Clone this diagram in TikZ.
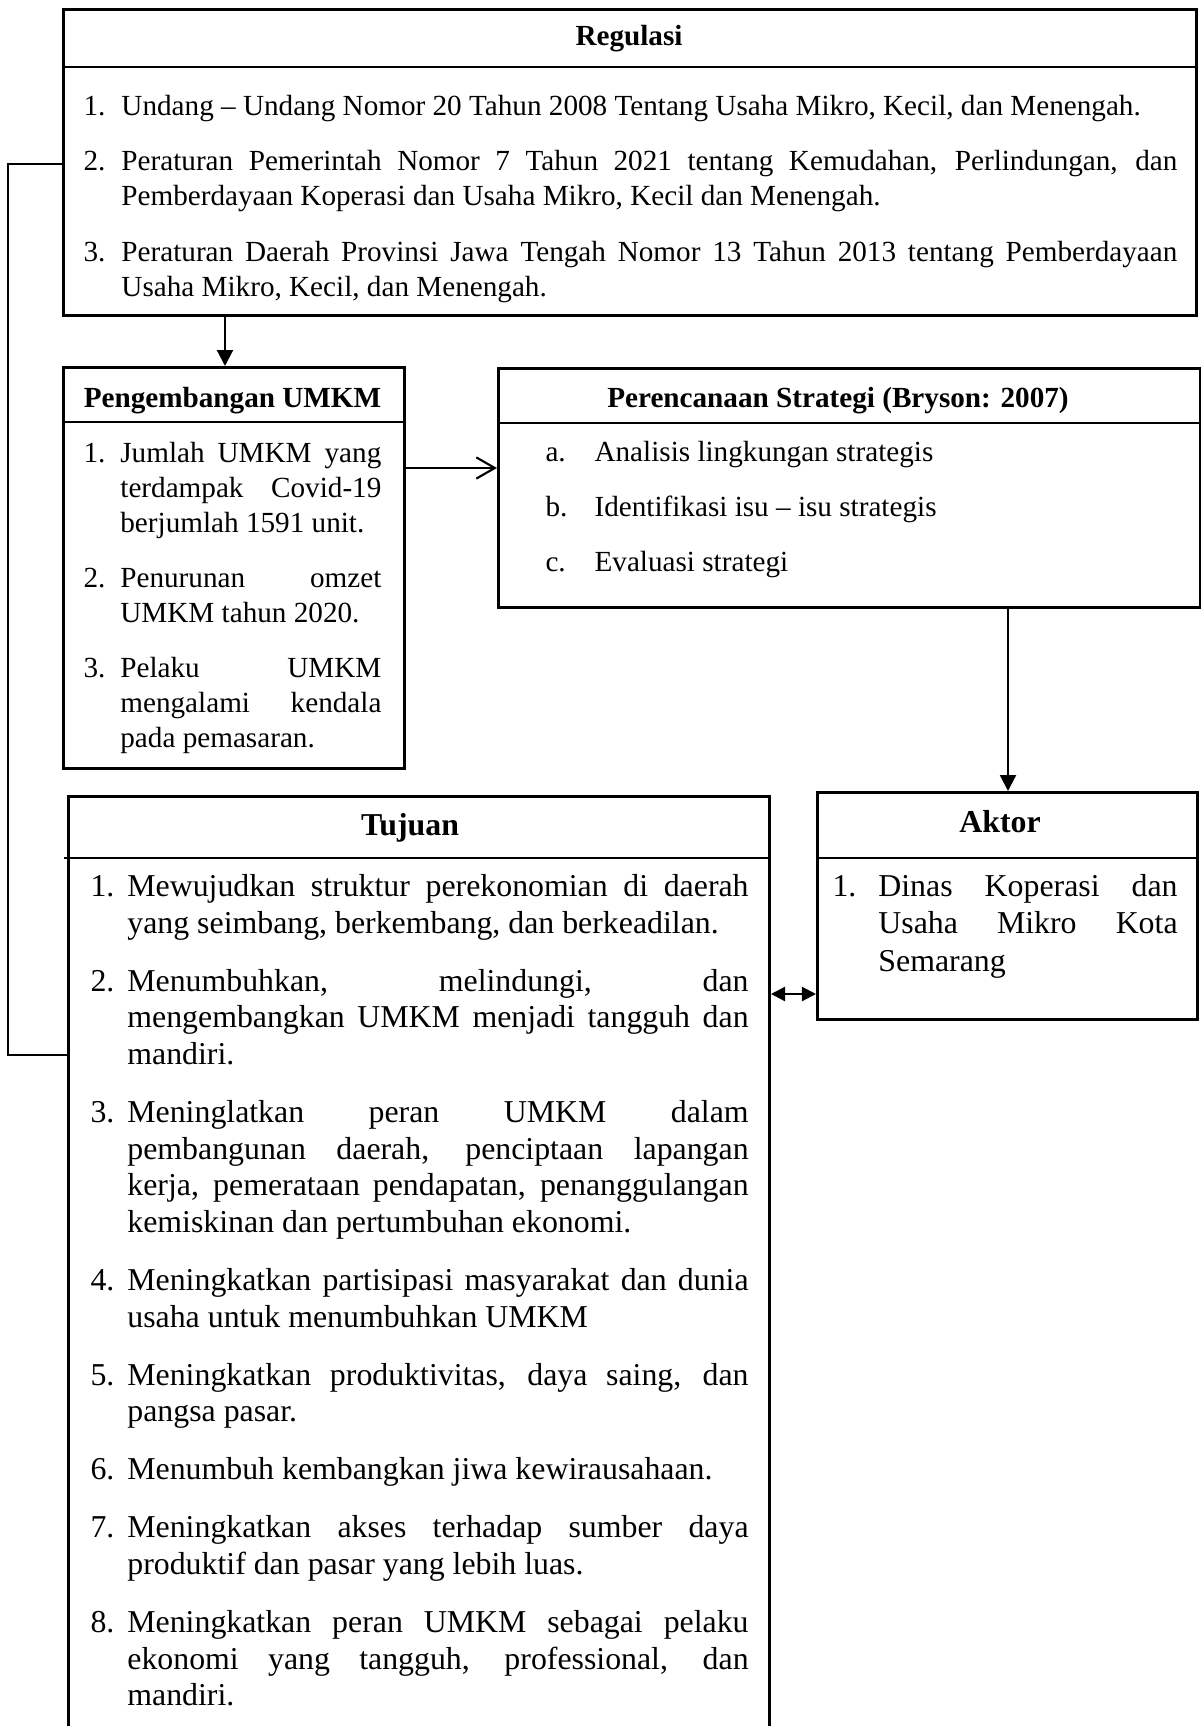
\documentclass[tikz,border=0pt]{standalone}
\usepackage{fontspec}
\setmainfont{Liberation Serif}
\usetikzlibrary{arrows.meta}
\newlength{\itemhang}
\newlength{\itemgap}
\newcommand{\numitem}[2]{\noindent\hangindent=\itemhang\hangafter=1\makebox[\itemhang][l]{#1}#2\par\vspace{\itemgap}}
\hyphenpenalty=10000
\exhyphenpenalty=10000
\hbadness=10000

\begin{document}
\begin{tikzpicture}[x=0.377pt,y=-0.377pt,
boxframe/.style={draw,line width=1.1pt,inner sep=0pt,anchor=north west},
sepline/.style={line width=0.45pt},
boxtitle/.style={anchor=base,inner sep=0pt,font=\bfseries\fontsize{11}{13}\selectfont},
bigtitle/.style={anchor=base,inner sep=0pt,font=\bfseries\fontsize{12}{14}\selectfont},
textlist/.style={anchor=base west,inner sep=0pt,align=justify,font=\fontsize{11}{13.2}\selectfont},
biglist/.style={anchor=base west,inner sep=0pt,align=justify,font=\fontsize{12}{13.8}\selectfont},
hangwidth/.code={\setlength{\itemhang}{#1}},
itemspace/.code={\setlength{\itemgap}{#1}},
flow/.style={line width=0.8pt,-{Triangle[length=6pt,width=6pt]}},
link/.style={line width=0.45pt}]
\path[use as bounding box,fill=white] (0,0) rectangle (1201,1726);
\clip (0,0) rectangle (1201,1726);

\node(regulasi)[boxframe,minimum width=427.1pt,minimum height=115.4pt] at (62,8){};
\node(regtitle)[boxtitle] at (629,45){Regulasi};
\draw[sepline] (62,67) -- (1195,67);
\node(reglist)[textlist,text width=412.4pt,hangwidth=14.3pt,itemspace=7.7pt] at (83,115.5){%
\numitem{1.}{Undang – Undang Nomor 20 Tahun 2008 Tentang Usaha Mikro, Kecil, dan Menengah.}
\numitem{2.}{Peraturan Pemerintah Nomor 7 Tahun 2021 tentang Kemudahan, Perlindungan, dan\linebreak Pemberdayaan Koperasi dan Usaha Mikro, Kecil dan Menengah.}
\numitem{3.}{Peraturan Daerah Provinsi Jawa Tengah Nomor 13 Tahun 2013 tentang Pemberdayaan\linebreak Usaha Mikro, Kecil, dan Menengah.}};

\node(pengembangan)[boxframe,minimum width=128.6pt,minimum height=151.2pt] at (62,366){};
\node(pengtitle)[boxtitle] at (232.5,407){Pengembangan UMKM};
\draw[sepline] (62,422) -- (403,422);
\node(penglist)[textlist,text width=112.3pt,hangwidth=13.9pt,itemspace=7.7pt] at (83,462){%
\numitem{1.}{Jumlah UMKM yang\linebreak terdampak Covid-19\linebreak berjumlah 1591 unit.}
\numitem{2.}{Penurunan omzet\linebreak UMKM tahun 2020.}
\numitem{3.}{Pelaku UMKM\linebreak mengalami kendala\linebreak pada pemasaran.}};

\node(perencanaan)[boxframe,minimum width=264.7pt,minimum height=90.1pt] at (497,367){};
\node(pertitle)[boxtitle] at (838,407){Perencanaan Strategi (Bryson: 2007)};
\draw[sepline] (497,423) -- (1199,423);
\node(perlist)[textlist,text width=226pt,hangwidth=18.5pt,itemspace=7.7pt] at (545,461){%
\numitem{a.}{Analisis lingkungan strategis}
\numitem{b.}{Identifikasi isu – isu strategis}
\numitem{c.}{Evaluasi strategi}};

\node(aktor)[boxframe,minimum width=143.3pt,minimum height=85.6pt] at (816,791){};
\node(aktortitle)[bigtitle] at (1000,832){Aktor};
\draw[sepline] (816,858) -- (1196,858);
\node(aktorlist)[biglist,text width=130.1pt,hangwidth=17.3pt,itemspace=0pt,font=\fontsize{12}{14.3}\selectfont] at (832,896){%
\numitem{1.}{Dinas Koperasi dan\linebreak Usaha Mikro Kota\linebreak Semarang}};

\node(tujuan)[boxframe,minimum width=264.3pt,minimum height=361.9pt] at (67,795){};
\node(tujuantitle)[bigtitle] at (410,835){Tujuan};
\draw[sepline] (64,858) -- (768,858);
\node(tujuanlist)[biglist,text width=248.1pt,hangwidth=13.9pt,itemspace=8.1pt] at (90,896.5){%
\numitem{1.}{Mewujudkan struktur perekonomian di daerah\linebreak yang seimbang, berkembang, dan berkeadilan.}
\numitem{2.}{Menumbuhkan, melindungi, dan\linebreak mengembangkan UMKM menjadi tangguh dan\linebreak mandiri.}
\numitem{3.}{Meninglatkan peran UMKM dalam\linebreak pembangunan daerah, penciptaan lapangan\linebreak kerja, pemerataan pendapatan, penanggulangan\linebreak kemiskinan dan pertumbuhan ekonomi.}
\numitem{4.}{Meningkatkan partisipasi masyarakat dan dunia\linebreak usaha untuk menumbuhkan UMKM}
\numitem{5.}{Meningkatkan produktivitas, daya saing, dan\linebreak pangsa pasar.}
\numitem{6.}{Menumbuh kembangkan jiwa kewirausahaan.}
\numitem{7.}{Meningkatkan akses terhadap sumber daya\linebreak produktif dan pasar yang lebih luas.}
\numitem{8.}{Meningkatkan peran UMKM sebagai pelaku\linebreak ekonomi yang tangguh, professional, dan\linebreak mandiri.}};

\coordinate(regdown) at (225,0);
\coordinate(pengright) at (0,468);
\coordinate(perdown) at (1008,0);
\coordinate(tujright) at (0,994);
\coordinate(backlow) at (8,1055);
\coordinate(backhigh) at (8,164);
\path[draw,flow] (regulasi.south -| regdown) -- (pengembangan.north -| regdown);
\path[draw,line width=0.8pt,-{Straight Barb[length=7pt,width=8pt]}] (pengembangan.east |- pengright) -- (perencanaan.west |- pengright);
\path[draw,flow] (perencanaan.south -| perdown) -- (aktor.north -| perdown);
\path[draw,line width=0.8pt,{Triangle[length=5.3pt,width=5.3pt]}-{Triangle[length=5.3pt,width=5.3pt]}] (tujuan.east |- tujright) -- (aktor.west |- tujright);
\path[draw,link] (tujuan.west |- backlow) -- (backlow) -- (backhigh) -- (regulasi.west |- backhigh);
\end{tikzpicture}
\end{document}
